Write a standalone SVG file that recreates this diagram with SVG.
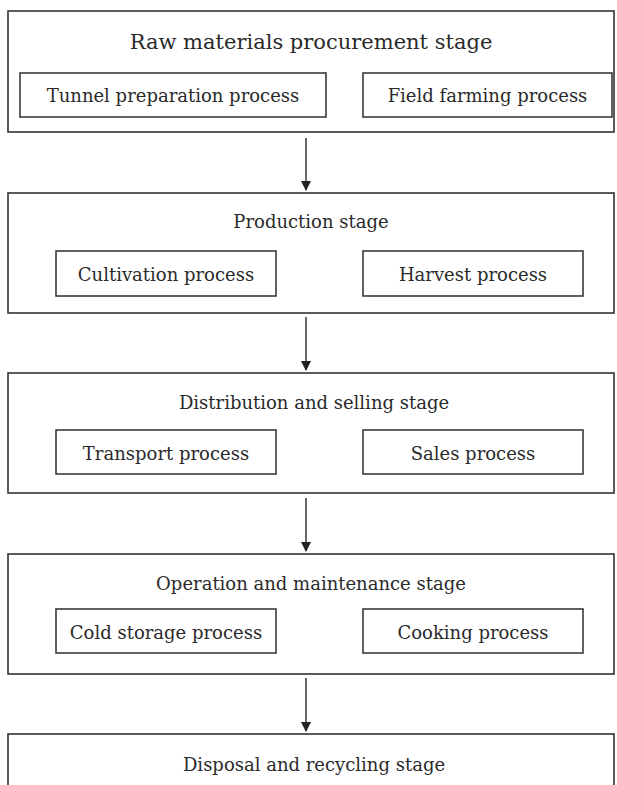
<svg xmlns="http://www.w3.org/2000/svg" width="617" height="785" viewBox="0 0 617 785">
<style>
.stage{fill:#fff;stroke:#333;stroke-width:1.6}
.proc{fill:#fff;stroke:#3a3a3a;stroke-width:1.6}
text{font-family:"DejaVu Serif","Liberation Serif",serif;fill:#2a2a2a;text-anchor:middle}
.t1{font-size:21px}
.t{font-size:18px}
.c{stroke:#2a2a2a;stroke-width:1.4;fill:none}
</style>
<defs>
<marker id="ah" markerWidth="10" markerHeight="12" refX="9" refY="5" orient="auto" markerUnits="userSpaceOnUse" viewBox="0 0 10 10">
<path d="M0,0 L10,5 L0,10 Z" fill="#222"/>
</marker>
</defs>
<rect width="617" height="785" fill="#fff"/>
<g id="stage1">
<rect class="stage" x="8" y="11" width="606" height="121"/>
<text class="t1" x="311" y="49">Raw materials procurement stage</text>
<g id="tunnel"><rect class="proc" x="20" y="73" width="306" height="44"/><text class="t" x="173" y="102">Tunnel preparation process</text></g>
<g id="field"><rect class="proc" x="363" y="73" width="249" height="44"/><text class="t" x="487.5" y="102">Field farming process</text></g>
</g>
<g id="stage2">
<rect class="stage" x="8" y="193" width="606" height="120"/>
<text class="t" x="311" y="228">Production stage</text>
<g id="cultivation"><rect class="proc" x="56" y="251" width="220" height="45"/><text class="t" x="166" y="281">Cultivation process</text></g>
<g id="harvest"><rect class="proc" x="363" y="251" width="220" height="45"/><text class="t" x="473" y="281">Harvest process</text></g>
</g>
<g id="stage3">
<rect class="stage" x="8" y="373" width="606" height="120"/>
<text class="t" x="314" y="409">Distribution and selling stage</text>
<g id="transport"><rect class="proc" x="56" y="430" width="220" height="44"/><text class="t" x="166" y="460">Transport process</text></g>
<g id="sales"><rect class="proc" x="363" y="430" width="220" height="44"/><text class="t" x="473" y="460">Sales process</text></g>
</g>
<g id="stage4">
<rect class="stage" x="8" y="554" width="606" height="120"/>
<text class="t" x="311" y="590">Operation and maintenance stage</text>
<g id="cold"><rect class="proc" x="56" y="609" width="220" height="44"/><text class="t" x="166" y="639">Cold storage process</text></g>
<g id="cooking"><rect class="proc" x="363" y="609" width="220" height="44"/><text class="t" x="473" y="639">Cooking process</text></g>
</g>
<g id="stage5">
<rect class="stage" x="8" y="734" width="606" height="100"/>
<text class="t" x="314" y="771">Disposal and recycling stage</text>
</g>
<g id="connectors">
<path class="c" d="M306,138 L306,190" marker-end="url(#ah)"/>
<path class="c" d="M306,317 L306,370" marker-end="url(#ah)"/>
<path class="c" d="M306,498 L306,551" marker-end="url(#ah)"/>
<path class="c" d="M306,678 L306,731" marker-end="url(#ah)"/>
</g>
</svg>
